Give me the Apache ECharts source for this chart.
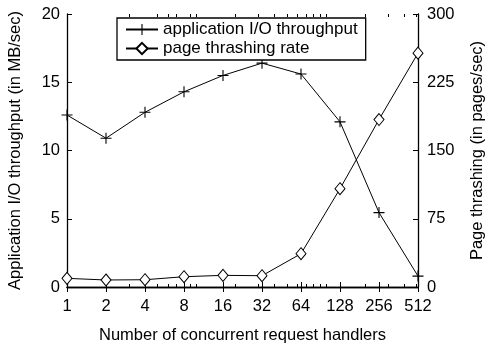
<!DOCTYPE html>
<html><head><meta charset="utf-8">
<script src="https://cdn.jsdelivr.net/npm/echarts@6/dist/echarts.min.js"></script>
<style>html,body{margin:0;padding:0;background:#fff}#c{width:488px;height:344px}</style>
</head><body><div id="c"></div>
<script>
const handlers = [1, 2, 4, 8, 16, 32, 64, 128, 256, 512];
const throughput = [12.6, 10.9, 12.8, 14.3, 15.5, 16.4, 15.6, 12.1, 5.45, 0.8];
const thrashing = [9.5, 7.7, 8, 11.3, 12.8, 12.4, 36.6, 108, 184, 257];
const leftTicks = [0, 5, 10, 15, 20];
const rightTicks = [0, 75, 150, 225, 300];
const minorTicks = [3, 5, 6, 7, 9, 10, 20, 30, 40, 50, 60, 70, 80, 90, 100, 200, 300, 400, 500];

const FONT = 'Liberation Sans, Arial, sans-serif';
const FS = 16.5;
const plusPath = 'path://M0,4.5H10V5.5H0Z M4.5,0H5.5V10H4.5Z';

const chart = echarts.init(document.getElementById('c'), null, {renderer: 'canvas'});
const axisLine = {show: true, lineStyle: {color: '#000', width: 1.3}};
const tick = {show: true, inside: true, length: 5, lineStyle: {color: '#000', width: 1}};
const minorAxis = pos => ({
  type: 'log', logBase: 2, min: 1, max: 512, position: pos,
  axisLine: {show: false}, axisLabel: {show: false}, splitLine: {show: false},
  axisTick: {show: true, inside: true, length: 3, customValues: minorTicks, lineStyle: {color: '#000', width: 1}}
});
chart.setOption({
  animation: false,
  backgroundColor: '#fff',
  textStyle: {fontFamily: FONT, color: '#000'},
  grid: {left: 67, right: 70, top: 14, bottom: 57, outerBoundsMode: 'none', containLabel: false},
  legend: {
    orient: 'vertical', left: 117, top: 18,
    padding: [3, 8, 3, 8], itemGap: 2, itemWidth: 32, itemHeight: 14,
    borderColor: '#000', borderWidth: 1.3, backgroundColor: '#fff',
    textStyle: {fontFamily: FONT, fontSize: 17, color: '#000'},
    data: ['application I/O throughput', 'page thrashing rate']
  },
  xAxis: [
    {type: 'log', logBase: 2, min: 1, max: 512, position: 'bottom',
     name: 'Number of concurrent request handlers', nameLocation: 'middle', nameGap: 40,
     nameTextStyle: {fontSize: FS, color: '#000', fontFamily: FONT},
     axisLine: axisLine, axisTick: tick,
     axisLabel: {fontSize: FS, color: '#000', margin: 11, fontFamily: FONT, formatter: v => String(Math.round(v))},
     splitLine: {show: false}},
    {type: 'log', logBase: 2, min: 1, max: 512, position: 'top',
     axisLine: axisLine, axisTick: tick, axisLabel: {show: false}, splitLine: {show: false}},
    minorAxis('bottom'),
    minorAxis('top')
  ],
  yAxis: [
    {type: 'value', min: leftTicks[0], max: leftTicks[leftTicks.length - 1], interval: 5, position: 'left',
     name: 'Application I/O throughput (in MB/sec)', nameLocation: 'middle', nameGap: 43,
     nameTextStyle: {fontSize: FS, color: '#000', fontFamily: FONT},
     axisLine: axisLine, axisTick: tick,
     axisLabel: {fontSize: FS, color: '#000', margin: 7, fontFamily: FONT},
     splitLine: {show: false}},
    {type: 'value', min: rightTicks[0], max: rightTicks[rightTicks.length - 1], interval: 75, position: 'right',
     name: 'Page thrashing (in pages/sec)', nameLocation: 'middle', nameGap: 51, nameRotate: 90,
     nameTextStyle: {fontSize: FS, color: '#000', fontFamily: FONT},
     axisLine: axisLine, axisTick: tick,
     axisLabel: {fontSize: FS, color: '#000', margin: 9, fontFamily: FONT},
     splitLine: {show: false}}
  ],
  series: [
    {name: 'application I/O throughput', type: 'line', xAxisIndex: 0, yAxisIndex: 0,
     data: handlers.map((h, i) => [h, throughput[i]]),
     symbol: plusPath, symbolSize: 11,
     lineStyle: {color: '#000', width: 1}, itemStyle: {color: '#000', borderWidth: 0}},
    {name: 'page thrashing rate', type: 'line', xAxisIndex: 0, yAxisIndex: 1,
     data: handlers.map((h, i) => [h, thrashing[i]]),
     symbol: 'diamond', symbolSize: [10, 12],
     lineStyle: {color: '#000', width: 1}, itemStyle: {color: '#fff', borderColor: '#000', borderWidth: 1}}
  ]
});
</script></body></html>
